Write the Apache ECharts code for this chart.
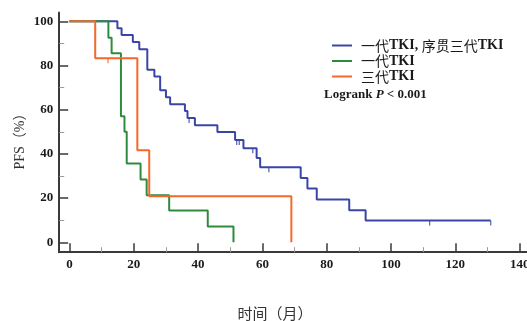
<!DOCTYPE html>
<html>
<head>
<meta charset="utf-8">
<script src="https://cdn.jsdelivr.net/npm/echarts@6/dist/echarts.min.js"></script>
<style>html,body{margin:0;padding:0;background:#fff;}#c{width:527px;height:321px;}</style>
</head>
<body>
<div id="c"></div>
<script>
// ---- data ----
const seriesNames = ['一代TKI, 序贯三代TKI', '一代TKI', '三代TKI'];
const blueT = [0, 14.9, 16.2, 19.7, 21.7, 24.2, 26.4, 28.2, 30, 31.3, 35.9, 36.7, 39, 46, 51.5, 54.1, 58.2, 59.3, 71.9, 74, 76.9, 87, 92.1, 131];
const blueS = [100, 96.9, 93.8, 90.6, 87.4, 78.1, 75, 68.8, 65.6, 62.5, 59.4, 56.2, 53, 49.9, 46.3, 42.5, 38.1, 34, 29.1, 24.3, 19.4, 14.5, 9.8, 9.8];
const blueCensT = [37.2, 52, 52.8, 57, 62, 112, 131];
const blueCensS = [56.2, 46.3, 46.3, 42.5, 34, 9.8, 9.8];
const greenT = [0, 12.1, 13.1, 16, 17.1, 17.8, 22.1, 24, 31, 43, 51];
const greenS = [100, 92.6, 85.6, 57, 50, 35.7, 28.4, 21.3, 14.4, 7.1, 0];
const orangeT = [0, 8, 21.1, 24.8, 69];
const orangeS = [100, 83.3, 41.6, 20.8, 0];
const orangeCensT = [12];
const orangeCensS = [83.3];
const xMajor = [0, 20, 40, 60, 80, 100, 120, 140];
const xMinor = [10, 30, 50, 70, 90, 110, 130];
const yMajor = [0, 20, 40, 60, 80, 100];
const yMinor = [10, 30, 50, 70, 90];

const colors = ['#3a46a6', '#2e8b3e', '#f4682c'];
const zip = (a, b) => a.map((v, i) => [v, b[i]]);

const serif = "'Liberation Serif','Times New Roman',serif";
const cjk = "'Noto Sans CJK SC',sans-serif";
const X_MIN = -3.2, X_MAX = 143, Y_MIN = -4.5, Y_MAX = 104;

function lineSeries(name, t, s, color) {
  return {
    name: name, type: 'line', step: 'end', data: zip(t, s),
    showSymbol: false, symbol: 'none', color: color,
    lineStyle: { color: color, width: 2 }, animation: false, z: 3
  };
}
function censSeries(name, t, s, color) {
  return {
    name: name + '_c', type: 'scatter', data: zip(t, s),
    symbol: 'rect', symbolSize: [1.3, 5], symbolOffset: [0, 2.5],
    itemStyle: { color: color }, animation: false, z: 4, silent: true
  };
}
function richName(name) {
  return name.match(/[A-Za-z, ]+|[^A-Za-z, ]+/g)
    .map(tok => /[A-Za-z, ]/.test(tok[0]) ? '{t|' + tok + '}' : '{c|' + tok + '}')
    .join('');
}

const chart = echarts.init(document.getElementById('c'), null, { renderer: 'canvas' });
chart.setOption({
  backgroundColor: '#fff',
  animation: false,
  grid: { left: 59.2, top: 12.5, width: 470.1, height: 239.7, containLabel: false, outerBoundsMode: 'none' },
  xAxis: [
    {
      type: 'value', position: 'bottom', min: X_MIN, max: X_MAX,
      axisLine: { onZero: false, lineStyle: { color: '#3a3a3a', width: 2 } },
      axisTick: { show: true, inside: true, length: 9, customValues: xMajor, lineStyle: { color: '#3a3a3a', width: 1.5 } },
      axisLabel: { customValues: xMajor, margin: 6, fontFamily: serif, fontWeight: 'bold', fontSize: 13, color: '#1a1a1a', showMaxLabel: true, hideOverlap: false },
      splitLine: { show: false }
    },
    {
      type: 'value', position: 'bottom', min: X_MIN, max: X_MAX,
      axisLine: { show: false, onZero: false },
      axisTick: { show: true, inside: true, length: 5, customValues: xMinor, lineStyle: { color: '#9a9a9a', width: 1 } },
      axisLabel: { show: false },
      splitLine: { show: false }
    }
  ],
  yAxis: [
    {
      type: 'value', position: 'left', min: Y_MIN, max: Y_MAX,
      axisLine: { show: true, onZero: false, lineStyle: { color: '#3a3a3a', width: 2 } },
      axisTick: { show: true, inside: true, length: 9, customValues: yMajor, lineStyle: { color: '#3a3a3a', width: 1.5 } },
      axisLabel: { customValues: yMajor, margin: 6, fontFamily: serif, fontWeight: 'bold', fontSize: 13, color: '#1a1a1a' },
      splitLine: { show: false }
    },
    {
      type: 'value', position: 'left', min: Y_MIN, max: Y_MAX,
      axisLine: { show: false, onZero: false },
      axisTick: { show: true, inside: true, length: 5, customValues: yMinor, lineStyle: { color: '#9a9a9a', width: 1 } },
      axisLabel: { show: false },
      splitLine: { show: false }
    }
  ],
  legend: {
    orient: 'vertical', left: 332, top: 38, padding: 0,
    data: seriesNames, icon: 'rect', itemWidth: 20, itemHeight: 2, itemGap: 0.5,
    selectedMode: false,
    formatter: richName,
    textStyle: {
      color: '#1a1a1a', lineHeight: 15, padding: [0, 0, 0, 4],
      rich: {
        c: { fontFamily: cjk, fontSize: 14, fontWeight: 'normal', color: '#1a1a1a', lineHeight: 15 },
        t: { fontFamily: serif, fontSize: 14, fontWeight: 'bold', color: '#1a1a1a', lineHeight: 15 }
      }
    }
  },
  graphic: [
    {
      type: 'text', x: 324, y: 95,
      style: {
        text: '{b|Logrank }{i|P}{b| < 0.001}', textVerticalAlign: 'middle', textAlign: 'left',
        rich: {
          b: { fontFamily: serif, fontWeight: 'bold', fontSize: 13, fill: '#1a1a1a' },
          i: { fontFamily: serif, fontWeight: 'bold', fontStyle: 'italic', fontSize: 13, fill: '#1a1a1a' }
        }
      }
    },
    {
      type: 'text', x: 20, y: 138, rotation: Math.PI / 2,
      style: { text: 'PFS（%）', textAlign: 'center', textVerticalAlign: 'middle', fontFamily: serif + ",'Noto Sans CJK SC'", fontSize: 14, fill: '#333' }
    },
    {
      type: 'text', x: 275, y: 313,
      style: { text: '时间（月）', textAlign: 'center', textVerticalAlign: 'middle', fontFamily: cjk, fontSize: 15, fill: '#333' }
    }
  ],
  series: [
    lineSeries(seriesNames[0], blueT, blueS, colors[0]),
    lineSeries(seriesNames[1], greenT, greenS, colors[1]),
    lineSeries(seriesNames[2], orangeT, orangeS, colors[2]),
    censSeries(seriesNames[0], blueCensT, blueCensS, colors[0]),
    censSeries(seriesNames[2], orangeCensT, orangeCensS, colors[2])
  ]
});
</script>
</body>
</html>
